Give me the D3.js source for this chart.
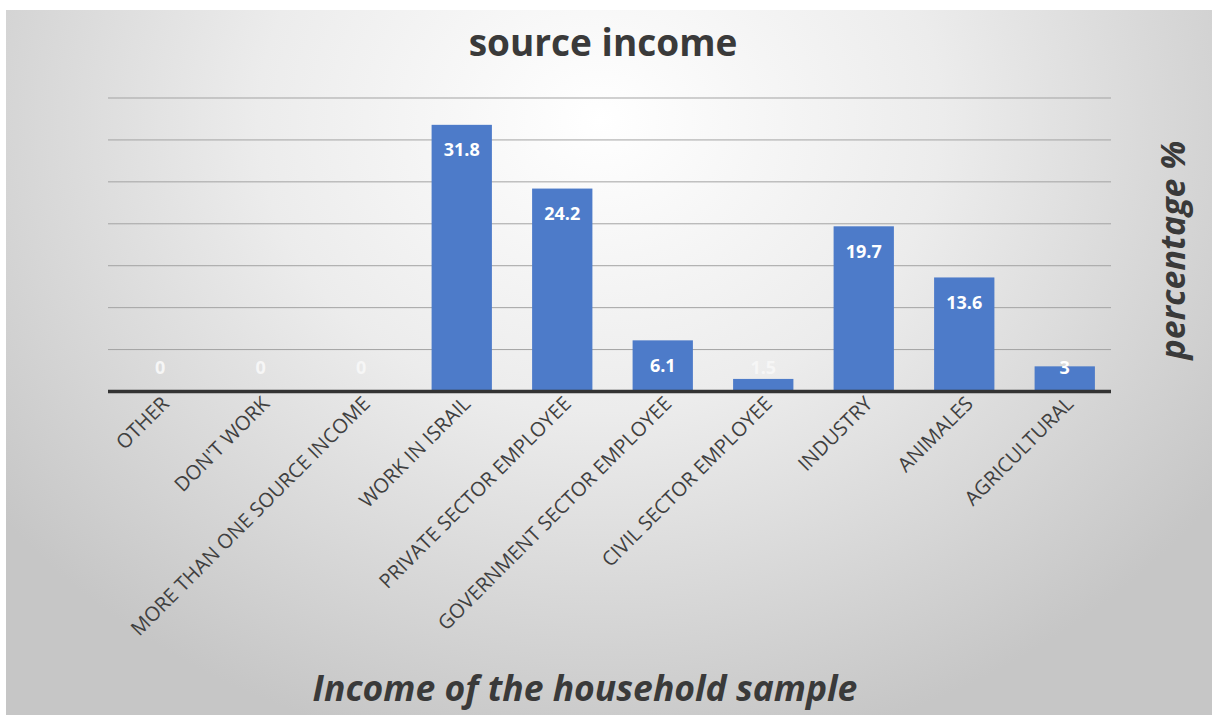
<!DOCTYPE html>
<html>
<head>
<meta charset="utf-8">
<script src="https://cdn.jsdelivr.net/npm/d3@7"></script>
<style>
  body { margin: 0; background: #fff; }
  svg { display: block; }
</style>
</head>
<body>
<div id="chart"></div>
<script>
var categories = ["OTHER", "DON'T WORK", "MORE THAN ONE SOURCE INCOME", "WORK IN ISRAIL",
    "PRIVATE SECTOR EMPLOYEE", "GOVERNMENT SECTOR EMPLOYEE", "CIVIL SECTOR EMPLOYEE",
    "INDUSTRY", "ANIMALES", "AGRICULTURAL"];
var values = [0, 0, 0, 31.8, 24.2, 6.1, 1.5, 19.7, 13.6, 3];
var gridTicks = [5, 10, 15, 20, 25, 30, 35];

var W = 1212, H = 715;
var svg = d3.select("#chart").append("svg")
    .attr("width", W)
    .attr("height", H);

// background panel with soft radial gradient
var defs = svg.append("defs");
var grad = defs.append("radialGradient")
    .attr("id", "bg")
    .attr("gradientUnits", "userSpaceOnUse")
    .attr("cx", 600).attr("cy", 120).attr("r", 760)
    .attr("gradientTransform", "translate(600,120) scale(1,0.85) translate(-600,-120)");
grad.append("stop").attr("offset", "0%").attr("stop-color", "#ffffff");
grad.append("stop").attr("offset", "45%").attr("stop-color", "#ececec");
grad.append("stop").attr("offset", "100%").attr("stop-color", "#c6c6c6");

svg.append("rect")
    .attr("x", 6).attr("y", 10)
    .attr("width", W - 6).attr("height", H - 10)
    .attr("fill", "url(#bg)");

var x = d3.scaleBand()
    .domain(categories)
    .range([110, 1115])
    .paddingInner(0.4)
    .paddingOuter(0.2);

var y = d3.scaleLinear()
    .domain([0, 35])
    .range([391.5, 98]);

// gridlines
svg.selectAll(".grid")
    .data(gridTicks)
  .enter().append("line")
    .attr("class", "grid")
    .attr("x1", 108).attr("x2", 1111)
    .attr("y1", function(d) {return y(d);})
    .attr("y2", function(d) {return y(d);})
    .attr("stroke", "#a3a3a3")
    .attr("stroke-width", 1);

// bars
svg.selectAll(".bar")
    .data(values)
  .enter().append("rect")
    .attr("class", "bar")
    .attr("x", function(d, i) {return x(categories[i]);})
    .attr("width", x.bandwidth())
    .attr("y", function(d) {return y(d);})
    .attr("height", function(d) {return y(0) - y(d);})
    .attr("fill", "#4d7bc9");

// baseline
svg.append("line")
    .attr("x1", 108).attr("x2", 1111)
    .attr("y1", y(0)).attr("y2", y(0))
    .attr("stroke", "#333")
    .attr("stroke-width", 3.5);

// value labels
svg.selectAll(".val")
    .data(values)
  .enter().append("text")
    .attr("class", "val")
    .attr("x", function(d, i) {return x(categories[i]) + x.bandwidth() / 2;})
    .attr("y", function(d) {return Math.min(y(d) + 25, y(0) - 24);})
    .attr("dy", "0.35em")
    .attr("text-anchor", "middle")
    .attr("font-family", "Open Sans")
    .attr("font-weight", "bold")
    .attr("font-size", 18)
    .attr("fill", function(d) {return d > 2 ? "#ffffff" : "#f6f6f6";})
    .text(function(d) {return d;});

// category labels, rotated
svg.selectAll(".cat")
    .data(categories)
  .enter().append("text")
    .attr("class", "cat")
    .attr("transform", function(d) {
        var cx = x(d) + x.bandwidth() / 2 + 10;
        return "translate(" + cx + ",405) rotate(-45)";
    })
    .attr("text-anchor", "end")
    .attr("font-family", "Open Sans")
    .attr("font-size", 20)
    .attr("fill", "#404040")
    .text(function(d) {return d;});

// title
svg.append("text")
    .attr("x", 603).attr("y", 56)
    .attr("text-anchor", "middle")
    .attr("font-family", "Open Sans")
    .attr("font-weight", "bold")
    .attr("font-size", 37)
    .attr("fill", "#3a3a3a")
    .text("source income");

// x axis title
svg.append("text")
    .attr("x", 585).attr("y", 701)
    .attr("text-anchor", "middle")
    .attr("font-family", "Open Sans")
    .attr("font-weight", "bold")
    .attr("font-style", "italic")
    .attr("font-size", 35.5)
    .attr("fill", "#3a3a3a")
    .text("Income of the household sample");

// right side title
svg.append("text")
    .attr("transform", "translate(1185,250) rotate(-90)")
    .attr("text-anchor", "middle")
    .attr("font-family", "Open Sans")
    .attr("font-weight", "bold")
    .attr("font-style", "italic")
    .attr("font-size", 34)
    .attr("fill", "#3a3a3a")
    .text("percentage %");
</script>
</body>
</html>
